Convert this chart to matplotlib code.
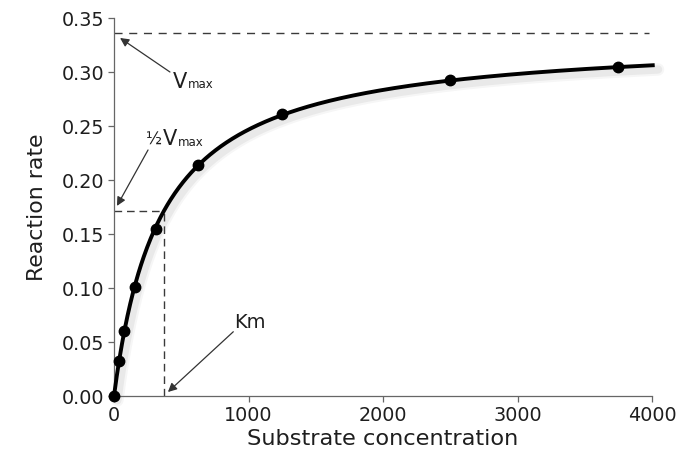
import numpy as np
import matplotlib
matplotlib.use("Agg")
import matplotlib.pyplot as plt

# Data points
substrate = [0, 39, 78, 156, 312, 625, 1250, 2500, 3750]
rate = [0.0, 0.032, 0.060, 0.101, 0.155, 0.214, 0.261, 0.293, 0.305]

# Fitted Michaelis-Menten curve parameters
curve_vmax = 0.333
curve_km = 350.0
curve_xmax = 4020

# Guide lines
vmax_guide = 0.336
half_vmax_guide = 0.171
km_guide = 375
vmax_guide_end = 3978

x_ticks = [0, 1000, 2000, 3000, 4000]
y_ticks = [0.00, 0.05, 0.10, 0.15, 0.20, 0.25, 0.30, 0.35]

TXT = "#1e1e1e"
fig = plt.figure(figsize=(6.94, 4.58), dpi=100)
ax = fig.add_axes([114 / 694, 1 - 396 / 458, 538 / 694, 378 / 458])

s = np.linspace(0, curve_xmax, 800)
v = curve_vmax * s / (curve_km + s)
# soft shadow
for lw, a in [(9, 0.035), (6, 0.05)]:
    ax.plot(s + 25, v - 0.004, color="black", lw=lw, alpha=a,
            clip_on=False, zorder=2, solid_capstyle="round")
ax.plot(s, v, color="black", lw=2.8, clip_on=False, zorder=3,
        solid_capstyle="butt")
ax.plot(substrate, rate, "o", color="black", ms=7.5, clip_on=False, zorder=4)

ax.plot([0, vmax_guide_end], [vmax_guide, vmax_guide], color="#3a3a3a",
        lw=1, ls=(0, (5.8, 4.8)))
ax.plot([0, km_guide], [half_vmax_guide, half_vmax_guide], color="#3a3a3a",
        lw=1, ls=(0, (5.5, 3.5)))
ax.plot([km_guide, km_guide], [0, half_vmax_guide], color="#3a3a3a",
        lw=1, ls=(0, (5.5, 3.5)))

ax.set_xlim(0, 4000)
ax.set_ylim(0, 0.35)
ax.set_xticks(x_ticks)
ax.set_yticks(y_ticks)
ax.set_yticklabels([f"{t:.2f}" for t in y_ticks])
for sp in ["top", "right"]:
    ax.spines[sp].set_visible(False)
for sp in ["left", "bottom"]:
    ax.spines[sp].set_color("#666666")
    ax.spines[sp].set_linewidth(0.9)
ax.tick_params(direction="out", length=4, width=0.9, color="#666666",
               labelsize=13.8, labelcolor=TXT, pad=3)

ax.set_xlabel("Substrate concentration", fontsize=16.2, color=TXT)
ax.xaxis.set_label_coords(0.5, -0.088)
ax.set_ylabel("Reaction rate", fontsize=15.8, color=TXT)
ax.yaxis.set_label_coords(-0.125, 0.5)

arrow = dict(arrowstyle="-|>", color="#333333", lw=0.9, mutation_scale=13,
             shrinkA=0, shrinkB=0)

# Vmax label and arrow
ax.text(440, 0.2855, "V", fontsize=15, color=TXT, ha="left", va="baseline")
ax.text(548, 0.2848, "max", fontsize=8.5, color=TXT, ha="left", va="baseline")
ax.annotate("", xy=(45, 0.3315), xytext=(416, 0.300), arrowprops=arrow)

# 1/2 Vmax label and arrow
ax.text(236, 0.2325, "½", fontsize=12, color=TXT, ha="left", va="baseline")
ax.text(366, 0.2325, "V", fontsize=15, color=TXT, ha="left", va="baseline")
ax.text(474, 0.2318, "max", fontsize=8.5, color=TXT, ha="left", va="baseline")
ax.annotate("", xy=(22, 0.176), xytext=(253, 0.2278), arrowprops=arrow)

# Km label and arrow
ax.text(1011, 0.0676, "Km", fontsize=14, color=TXT, ha="center", va="center")
ax.annotate("", xy=(401, 0.0037), xytext=(887, 0.0595), arrowprops=arrow)

fig.savefig("out.png", dpi=100)
